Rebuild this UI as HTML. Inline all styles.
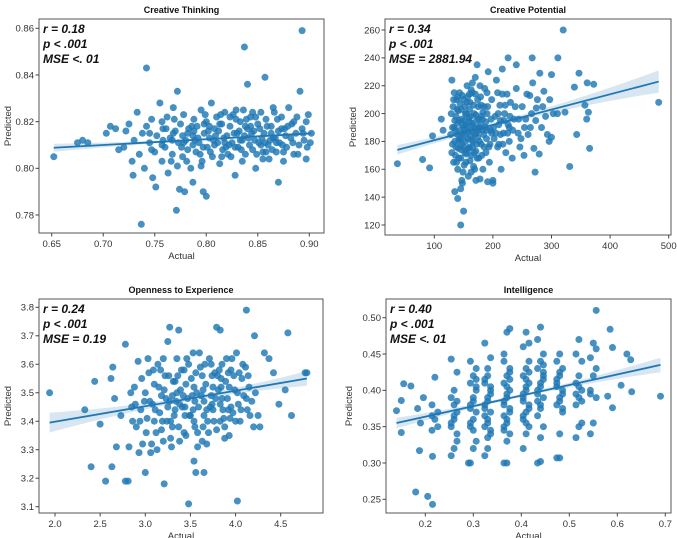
<!DOCTYPE html>
<html><head><meta charset="utf-8"><style>
html,body{margin:0;padding:0;background:#fff;}
svg{display:block;font-family:"Liberation Sans","DejaVu Sans",sans-serif;}
</style></head><body>
<svg id="fig" width="677" height="538" viewBox="0 0 677 538" xmlns="http://www.w3.org/2000/svg"></svg>
<script>
// ---- Creative Thinking ----
const ctPoints=[[0.652,0.805],[0.675,0.811],[0.680,0.812],[0.685,0.811],[0.703,0.815],[0.707,0.818],[0.712,0.817],[0.715,0.808],[0.742,0.843],[0.737,0.776],[0.771,0.782],[0.837,0.852],[0.893,0.859],[0.857,0.839],[0.840,0.836],[0.772,0.833],[0.800,0.788],[0.797,0.790],[0.787,0.794],[0.774,0.791],[0.779,0.790],[0.751,0.792],[0.729,0.797],[0.870,0.794],[0.897,0.804],
[0.72,0.809],[0.722,0.816],[0.725,0.819],[0.728,0.803],[0.730,0.812],[0.733,0.824],[0.735,0.806],[0.738,0.815],[0.740,0.800],[0.742,0.818],[0.745,0.811],[0.747,0.821],[0.748,0.796],[0.750,0.807],[0.752,0.814],[0.755,0.828],[0.757,0.803],[0.758,0.817],[0.760,0.809],[0.762,0.822],[0.763,0.798],[0.765,0.813],[0.767,0.806],[0.768,0.826],[0.770,0.816],[0.772,0.801],[0.773,0.811],[0.775,0.819],[0.777,0.805],[0.778,0.823],[0.780,0.812],[0.782,0.808],[0.783,0.817],[0.785,0.800],[0.787,0.814],[0.788,0.821],[0.790,0.807],[0.791,0.818],[0.793,0.811],[0.795,0.825],[0.796,0.803],[0.798,0.815],[0.800,0.820],[0.801,0.809],[0.803,0.813],[0.805,0.828],[0.806,0.805],[0.808,0.817],[0.810,0.822],[0.811,0.811],[0.813,0.802],[0.815,0.819],[0.816,0.808],[0.818,0.824],[0.820,0.814],[0.821,0.806],[0.823,0.818],[0.825,0.811],[0.826,0.823],[0.828,0.797],[0.830,0.815],[0.831,0.809],[0.833,0.820],[0.835,0.812],[0.836,0.825],[0.838,0.806],[0.840,0.817],[0.841,0.813],[0.843,0.822],[0.845,0.808],[0.846,0.816],[0.848,0.800],[0.850,0.819],[0.851,0.811],[0.853,0.824],[0.855,0.807],[0.856,0.815],[0.858,0.821],[0.860,0.810],[0.861,0.804],[0.863,0.818],[0.865,0.813],[0.866,0.824],[0.868,0.807],[0.870,0.816],[0.871,0.811],[0.873,0.822],[0.875,0.803],[0.876,0.817],[0.878,0.809],[0.880,0.826],[0.882,0.813],[0.883,0.819],[0.885,0.806],[0.887,0.815],[0.888,0.822],[0.890,0.810],[0.891,0.833],[0.893,0.817],[0.895,0.812],[0.897,0.820],[0.899,0.823],[0.901,0.811],[0.902,0.815],[0.812,0.816],[0.822,0.810],[0.832,0.816],[0.842,0.810],[0.852,0.817],[0.862,0.812],[0.802,0.816],[0.792,0.813],[0.782,0.815],[0.807,0.812],[0.817,0.813],[0.827,0.815],[0.837,0.814],[0.847,0.812],[0.857,0.811],[0.867,0.813],[0.877,0.814],[0.797,0.809],[0.787,0.810],[0.777,0.814],[0.767,0.812],[0.757,0.810],[0.747,0.808],
[0.761,0.817],[0.766,0.803],[0.769,0.821],[0.776,0.809],[0.781,0.803],[0.786,0.818],[0.789,0.812],[0.794,0.806],[0.799,0.823],[0.804,0.807],[0.809,0.814],[0.814,0.823],[0.819,0.809],[0.824,0.805],[0.829,0.821],[0.834,0.808],[0.839,0.821],[0.844,0.815],[0.849,0.806],[0.854,0.813],[0.859,0.818],[0.864,0.808],[0.869,0.821],[0.874,0.810],[0.879,0.818],[0.884,0.811],[0.889,0.806],[0.894,0.815],[0.898,0.809],[0.803,0.818],[0.813,0.819],[0.823,0.822],[0.833,0.812],[0.843,0.818],[0.853,0.810],[0.863,0.815],[0.873,0.817],[0.818,0.811],[0.828,0.809],[0.838,0.818],[0.848,0.822],[0.858,0.807],[0.868,0.811],[0.808,0.810],[0.798,0.819],[0.788,0.816],[0.778,0.811],[0.768,0.815],[0.758,0.812],[0.795,0.801],[0.815,0.805],[0.835,0.803],[0.855,0.804],[0.875,0.807],[0.829,0.825],[0.845,0.824],[0.865,0.826],[0.885,0.820],[0.757,0.820],[0.745,0.815]];
const ctXTicks=[0.65,0.70,0.75,0.80,0.85,0.90];
const ctYTicks=[0.78,0.80,0.82,0.84,0.86];
const ctFit=[0.7927,0.0247]; // intercept, slope
const ctStats=["r = 0.18","p < .001","MSE <. 01"];

// ---- Creative Potential ----
const cpPoints=[[37,164],[80,167],[92,161],[97,184],[112,196],[115,188],[320,260],[483,208],[372,221],[365,175],[331,162],[343,185],[339,219],[347,229],[357,206],[361,222],[360,196],[363,201],[311,240],[267,240],[226,240],[240,235],[145,120],[150,130],[140,139],[135,144],[145,146],[148,150],[272,158],[279,171],[300,183],[296,180],[310,200],[323,201],
[130,224],[132,205],[134,190],[135,180],[136,170],[137,198],[138,210],[139,185],[140,160],[141,175],[142,195],[143,215],[144,188],[145,168],[146,203],[147,178],[148,192],[149,158],[150,210],[151,185],[152,172],[153,200],[154,165],[155,190],[156,220],[157,182],[158,155],[159,197],[160,176],[161,208],[162,188],[163,170],[164,193],[165,215],[166,180],[167,162],[168,200],[169,185],[170,226],[171,173],[172,195],[173,235],[174,183],[175,205],[176,168],[177,190],[178,153],[179,212],[180,178],[182,196],[184,185],[186,218],[188,172],[190,200],[192,230],[194,165],[196,188],[198,210],[200,152],[202,182],[204,198],[206,224],[208,176],[210,192],[212,206],[214,160],[216,232],[218,186],[220,200],[222,172],[224,214],[226,192],[228,180],[230,208],[233,168],[236,196],[240,218],[243,186],[246,176],[250,205],[253,170],[256,196],[260,185],[263,213],[266,200],[270,175],[273,195],[276,210],[280,229],[283,190],[287,216],[290,198],[293,185],[297,210],[300,228],[303,200],[216,214],[213,185],[195,178],[185,205],[175,188],[165,176],[155,200],[145,182],[135,195],[130,172],[128,185],[133,210],[141,202],[157,212],[163,158],[171,152],[183,160],[191,151],[200,150],[210,178],[219,195],[228,190],[238,205],[248,182],[258,214],[268,222],[150,176],[160,194],[170,214],[180,206],[190,215],[138,165],[147,152],[156,174],[165,222],[178,220],[188,194],[198,186],[208,215],[131,190],[142,180],[152,195],[162,184],[172,178],[182,188],
[129,200],[131,178],[133,165],[134,215],[136,188],[137,176],[139,203],[140,193],[142,168],[143,182],[144,207],[146,174],[147,196],[148,213],[149,186],[151,163],[152,205],[153,180],[154,192],[155,171],[156,208],[158,187],[159,175],[160,203],[161,166],[162,198],[163,217],[164,181],[166,191],[167,206],[168,172],[169,160],[171,199],[172,186],[173,168],[174,210],[176,196],[177,180],[179,192],[181,170],[183,201],[185,176],[187,190],[189,182],[191,205],[193,176],[197,196],[201,190],[205,186],[209,200],[213,195],[217,178],[221,206],[225,186],[229,198],[234,188],[244,196],[254,190],[264,190],[274,204],[285,205],[140,212],[150,190],[160,214],[170,190],[180,198],[190,188]];
const cpXTicks=[100,200,300,400,500];
const cpYTicks=[120,140,160,180,200,220,240,260];
const cpFit=[169.9,0.1099];
const cpStats=["r = 0.34","p < .001","MSE = 2881.94"];

// ---- Openness to Experience ----
const opPoints=[[1.94,3.50],[2.33,3.44],[2.40,3.24],[2.44,3.54],[2.56,3.19],[2.63,3.24],[2.78,3.19],[2.81,3.19],[2.78,3.67],[3.00,3.22],[3.21,3.18],[3.48,3.11],[4.02,3.12],[4.12,3.79],[4.58,3.71],[4.62,3.42],[4.77,3.57],[4.79,3.57],[4.55,3.51],[4.48,3.46],[4.42,3.57],[4.37,3.62],[4.32,3.64],[4.21,3.70],[3.56,3.22],[3.65,3.22],[3.54,3.26],[2.50,3.39],[2.62,3.55],[2.64,3.59],[2.66,3.48],[2.68,3.31],[2.73,3.42],[3.27,3.73],[3.37,3.72],[3.79,3.73],[3.83,3.72],
[2.85,3.45],[2.88,3.52],[2.90,3.38],[2.92,3.61],[2.95,3.44],[2.97,3.32],[3.00,3.50],[3.02,3.41],[3.04,3.57],[3.06,3.29],[3.08,3.46],[3.10,3.53],[3.12,3.36],[3.14,3.60],[3.16,3.43],[3.18,3.49],[3.20,3.33],[3.22,3.56],[3.24,3.40],[3.25,3.68],[3.27,3.47],[3.29,3.31],[3.31,3.54],[3.33,3.44],[3.35,3.62],[3.37,3.38],[3.39,3.51],[3.41,3.45],[3.43,3.58],[3.45,3.35],[3.47,3.48],[3.49,3.42],[3.51,3.55],[3.53,3.64],[3.55,3.38],[3.57,3.50],[3.59,3.45],[3.61,3.59],[3.63,3.33],[3.65,3.47],[3.67,3.53],[3.69,3.40],[3.71,3.62],[3.73,3.49],[3.75,3.44],[3.77,3.57],[3.79,3.37],[3.81,3.51],[3.83,3.46],[3.85,3.60],[3.87,3.41],[3.89,3.54],[3.91,3.48],[3.93,3.35],[3.95,3.58],[3.97,3.43],[3.99,3.51],[4.01,3.64],[4.03,3.46],[4.05,3.40],[4.07,3.55],[4.09,3.49],[4.11,3.59],[4.13,3.44],[4.15,3.52],[4.18,3.47],[4.20,3.38],[4.22,3.50],[4.25,3.42],[4.27,3.38],[3.05,3.47],[3.15,3.52],[3.25,3.45],[3.35,3.50],[3.45,3.53],[3.55,3.47],[3.65,3.42],[3.75,3.52],[3.85,3.48],[3.95,3.45],[3.10,3.40],[3.20,3.62],[3.30,3.38],[3.40,3.58],[3.50,3.42],[3.60,3.64],[3.70,3.36],[3.80,3.56],[3.90,3.62],[4.00,3.40],[2.96,3.55],[3.03,3.62],[3.13,3.30],[3.23,3.48],[3.33,3.54],[3.43,3.36],[3.53,3.44],[3.63,3.56],[3.73,3.60],[3.83,3.40],[3.93,3.52],[2.82,3.31],[2.86,3.40],[2.93,3.29],[3.07,3.32],[3.17,3.58],[3.28,3.40],[3.38,3.46],[3.48,3.60],[3.58,3.36],[3.68,3.44],[3.78,3.48],[3.88,3.38],[3.98,3.56],[4.08,3.60],
[2.84,3.50],[2.89,3.46],[2.94,3.40],[2.99,3.47],[3.01,3.36],[3.09,3.58],[3.11,3.44],[3.19,3.40],[3.21,3.51],[3.26,3.56],[3.30,3.49],[3.32,3.42],[3.36,3.56],[3.42,3.49],[3.44,3.42],[3.46,3.62],[3.52,3.49],[3.54,3.40],[3.56,3.57],[3.62,3.49],[3.64,3.38],[3.66,3.60],[3.72,3.45],[3.74,3.56],[3.76,3.40],[3.82,3.58],[3.84,3.52],[3.86,3.44],[3.92,3.57],[3.94,3.41],[3.96,3.62],[4.02,3.50],[4.04,3.57],[4.06,3.44],[4.12,3.48],[4.14,3.56],[4.16,3.42],[3.18,3.37],[3.28,3.34],[3.38,3.33],[3.58,3.31],[3.68,3.32],[3.88,3.34],[3.34,3.47],[3.44,3.45],[3.54,3.52],[3.64,3.51],[3.74,3.46],[3.84,3.55],[3.92,3.44]];
const opXTicks=[2.0,2.5,3.0,3.5,4.0,4.5];
const opYTicks=[3.1,3.2,3.3,3.4,3.5,3.6,3.7,3.8];
const opFit=[3.2895,0.0544];
const opStats=["r = 0.24","p < .001","MSE = 0.19"];

// ---- Intelligence ----
const inOutliers=[[0.14,0.372],[0.15,0.342],[0.15,0.386],[0.155,0.409],[0.17,0.406],[0.18,0.26],[0.205,0.254],[0.215,0.243],[0.188,0.317],[0.215,0.309],[0.556,0.51],[0.69,0.392],[0.585,0.484],[0.59,0.459],[0.62,0.45],[0.628,0.442],[0.63,0.398],[0.608,0.407],[0.58,0.392],[0.59,0.376],[0.48,0.307],[0.44,0.302],[0.37,0.30],[0.29,0.30]];
const inClusterX=[0.19,0.22,0.26,0.30,0.33,0.37,0.41,0.44,0.48,0.52,0.55];
const inClusterY=[[0.375,0.355,0.39],[0.345,0.36,0.37,0.38,0.418,0.35,0.365],[0.31,0.32,0.34,0.35,0.36,0.37,0.39,0.40,0.425,0.443,0.38,0.33,0.355,0.365,0.385],[0.30,0.32,0.33,0.35,0.36,0.37,0.38,0.39,0.40,0.41,0.42,0.43,0.44,0.345,0.405,0.355,0.385,0.415,0.375],[0.31,0.32,0.34,0.35,0.36,0.37,0.38,0.39,0.40,0.41,0.42,0.445,0.465,0.355,0.395,0.375,0.335,0.345,0.365,0.385,0.405,0.415,0.43],[0.30,0.33,0.34,0.35,0.36,0.37,0.38,0.39,0.40,0.41,0.42,0.43,0.45,0.48,0.485,0.365,0.395,0.415,0.345,0.355,0.375,0.385,0.405,0.425,0.44],[0.32,0.34,0.35,0.36,0.37,0.38,0.39,0.40,0.41,0.42,0.43,0.44,0.46,0.48,0.465,0.385,0.405,0.375,0.395,0.415,0.425,0.365,0.355],[0.30,0.335,0.35,0.365,0.38,0.39,0.40,0.41,0.42,0.43,0.44,0.45,0.47,0.487,0.425,0.395,0.405,0.415,0.385,0.375,0.435],[0.307,0.34,0.37,0.38,0.39,0.40,0.41,0.42,0.43,0.44,0.45,0.395,0.405,0.385,0.375,0.415,0.425],[0.335,0.35,0.355,0.38,0.39,0.40,0.41,0.42,0.44,0.45,0.47,0.385,0.395,0.405],[0.34,0.355,0.39,0.40,0.42,0.43,0.445,0.465,0.457,0.395]];
const inXTicks=[0.2,0.3,0.4,0.5,0.6,0.7];
const inYTicks=[0.25,0.30,0.35,0.40,0.45,0.50];
const inFit=[0.3346,0.1455];
const inStats=["r = 0.40","p < .001","MSE <. 01"];

const NS="http://www.w3.org/2000/svg";
const svg=document.getElementById('fig');
function mk(tag,attrs,parent,text){const e=document.createElementNS(NS,tag);for(const k in attrs)e.setAttribute(k,attrs[k]);if(text!==undefined)e.textContent=text;(parent||svg).appendChild(e);return e;}

function panel(cfg){
  const g=mk('g',{});
  
  
  const [bl,bt,br,bb]=cfg.box;
  const [vx0,px0,vx1,px1]=cfg.xmap,[vy0,py0,vy1,py1]=cfg.ymap;
  const X=v=>px0+(v-vx0)*(px1-px0)/(vx1-vx0);
  const Y=v=>py0+(v-vy0)*(py1-py0)/(vy1-vy0);
  const t=mk('text',{x:(bl+br)/2,y:bt-6,'text-anchor':'middle','font-size':'9','font-weight':'bold',fill:'#111'},g,cfg.title);
  
  
  const pts=cfg.points;
  const xs=pts.map(p=>p[0]);
  const xmin=Math.min(...xs),xmax=Math.max(...xs);
  const xm=xs.reduce((a,b)=>a+b,0)/xs.length;
  const span=Math.max(xmax-xm,xm-xmin);
  const hw=x=>cfg.ci[0]+cfg.ci[1]*Math.pow((x-xm)/span,2);
  const f=x=>cfg.fit[0]+cfg.fit[1]*x;
  let up=[],dn=[];
  for(let i=0;i<=40;i++){const x=xmin+(xmax-xmin)*i/40;up.push(X(x).toFixed(1)+','+Y(f(x)+hw(x)).toFixed(1));dn.unshift(X(x).toFixed(1)+','+Y(f(x)-hw(x)).toFixed(1));}
  const band=mk('polygon',{points:up.concat(dn).join(' '),fill:'#1f77b4','fill-opacity':'0.18',stroke:'none'},g);
  
  
  const pg=mk('g',{fill:'#1f77b4','fill-opacity':'0.82'},g);
  
  
  pts.forEach(p=>{
    const c=mk('circle',{cx:X(p[0]).toFixed(1),cy:Y(p[1]).toFixed(1),r:3.5},pg);
    
    
  });
  const ln=mk('line',{x1:X(xmin),y1:Y(f(xmin)),x2:X(xmax),y2:Y(f(xmax)),stroke:'#1f77b4','stroke-width':'1.8'},g);
  
  
  const fr=mk('rect',{x:bl,y:bt,width:br-bl,height:bb-bt,fill:'none',stroke:'#555','stroke-width':'1'},g);
  
  
  cfg.xticks.forEach(v=>{const x=X(v);mk('line',{x1:x,y1:bb,x2:x,y2:bb+3.5,stroke:'#444'},g);
    const tt=mk('text',{x:x,y:bb+14,'text-anchor':'middle','font-size':'9.5',fill:'#333'},g,v.toFixed(cfg.xdec));
    
    });
  cfg.yticks.forEach(v=>{const y=Y(v);mk('line',{x1:bl-3.5,y1:y,x2:bl,y2:y,stroke:'#444'},g);
    const tt=mk('text',{x:bl-5,y:y+3.3,'text-anchor':'end','font-size':'9.5',fill:'#333'},g,v.toFixed(cfg.ydec));
    
    });
  const xl=mk('text',{x:(bl+br)/2,y:bb+26,'text-anchor':'middle','font-size':'9.5',fill:'#333'},g,'Actual');
  
  
  const yl=mk('text',{x:0,y:0,'text-anchor':'middle','font-size':'9.5',fill:'#333',transform:`translate(${cfg.ylabX},${(bt+bb)/2}) rotate(-90)`},g,'Predicted');
  
  
  cfg.stats.forEach((s,i)=>{
    const st=mk('text',{x:bl+4,y:bt+14+i*15,'font-size':'12','font-weight':'bold','font-style':'italic',fill:'#111'},g,s);
    
    
  });
}

const inPoints=inOutliers.slice();
inClusterX.forEach((cx,i)=>inClusterY[i].forEach((y,j)=>inPoints.push([cx+((j%3)-1)*0.006,y])));

panel({name:'creative-thinking',title:'Creative Thinking',box:[39,19,324,233],xmap:[0.65,51.7,0.90,309.3],ymap:[0.86,28.3,0.78,215],points:ctPoints,fit:ctFit,ci:[0.0004,0.0013],xticks:ctXTicks,yticks:ctYTicks,xdec:2,ydec:2,stats:ctStats,ylabX:11});
panel({name:'creative-potential',title:'Creative Potential',box:[385,19,671,235],xmap:[100,434.3,500,668.7],ymap:[260,30,120,225],points:cpPoints,fit:cpFit,ci:[1.5,6.5],xticks:cpXTicks,yticks:cpYTicks,xdec:0,ydec:0,stats:cpStats,ylabX:356});
panel({name:'openness-to-experience',title:'Openness to Experience',box:[39,299,323,513],xmap:[2.0,55,4.5,280.7],ymap:[3.8,307.3,3.1,506.7],points:opPoints,fit:opFit,ci:[0.008,0.027],xticks:opXTicks,yticks:opYTicks,xdec:1,ydec:1,stats:opStats,ylabX:11});
panel({name:'intelligence',title:'Intelligence',box:[386,299,671,513],xmap:[0.2,425.3,0.7,665.3],ymap:[0.50,317.7,0.25,499.3],points:inPoints,fit:inFit,ci:[0.002,0.008],xticks:inXTicks,yticks:inYTicks,xdec:1,ydec:2,stats:inStats,ylabX:352});
</script>
</body></html>
